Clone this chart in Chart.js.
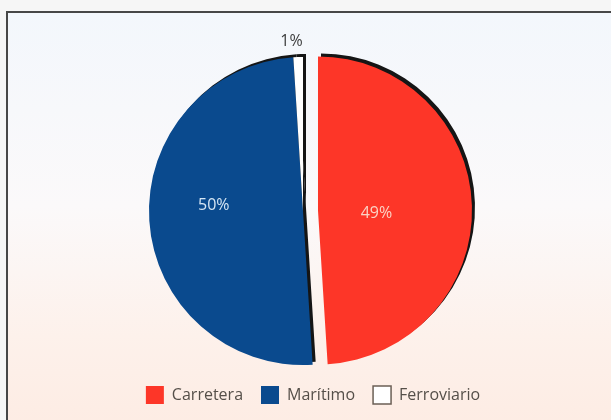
<!DOCTYPE html>
<html>
<head>
<meta charset="utf-8">
<script src="https://cdn.jsdelivr.net/npm/chart.js@4/dist/chart.umd.min.js"></script>
<style>
  html, body { margin: 0; padding: 0; }
  body { width: 611px; height: 420px; background: #f6f6f6; position: relative; overflow: hidden; }
  #frame {
    position: absolute; left: 6px; top: 11px; width: 620px; height: 430px;
    border-top: 2px solid #474747; border-left: 2px solid #474747;
    background: linear-gradient(to bottom, #f3f7fc 0%, #fbf9fa 45%, #fdf1eb 75%, #fdebe2 100%);
  }
  #myChart { position: absolute; left: 0; top: 0; }
</style>
</head>
<body>
<div id="frame"></div>
<canvas id="myChart" width="611" height="420"></canvas>
<script>
// reparto modal
const modos = ['Carretera', 'Marítimo', 'Ferroviario'];
const porcentajes = [49, 50, 1];
const colores = ['#fd3628', '#0a4a8e', '#ffffff'];

// how far each slice is pulled out of the pie, in px
const separacion = [15, 0, 0];

function desplazamiento(arc, i) {
  const mid = (arc.startAngle + arc.endAngle) / 2;
  return { dx: Math.cos(mid) * separacion[i], dy: Math.sin(mid) * separacion[i] };
}

// draws the slices pulled out, with a black shadow up and to the right
const sombra = {
  id: 'sombra',
  beforeDatasetDraw(chart, args) {
    const ctx = chart.ctx;
    ctx.save();
    ctx.shadowColor = '#151515';
    ctx.shadowBlur = 0;
    ctx.shadowOffsetX = 3;
    ctx.shadowOffsetY = -3;
    args.meta.data.forEach((arc, i) => {
      const d = desplazamiento(arc, i);
      ctx.save();
      ctx.translate(d.dx, d.dy);
      arc.draw(ctx);
      ctx.restore();
    });
    ctx.restore();
    return false;
  }
};

// percentage labels: inside for the big slices, outside for the small one
const etiquetas = {
  id: 'etiquetas',
  afterDatasetsDraw(chart) {
    const ctx = chart.ctx;
    const arcs = chart.getDatasetMeta(0).data;
    const radios = [0.38, 0.58, 1.1];
    const giros = [5, 7, 0];
    const tintas = ['#fbd2c4', '#d6e6f4', '#3d3d3d'];
    ctx.save();
    ctx.font = '16px "Open Sans"';
    ctx.textBaseline = 'middle';
    arcs.forEach((arc, i) => {
      const d = desplazamiento(arc, i);
      const mid = (arc.startAngle + arc.endAngle) / 2 + giros[i] * Math.PI / 180;
      const r = arc.outerRadius * radios[i];
      const x = arc.x + d.dx + Math.cos(mid) * r;
      const y = arc.y + d.dy + Math.sin(mid) * r;
      ctx.fillStyle = tintas[i];
      ctx.textAlign = radios[i] > 1 ? 'right' : 'center';
      ctx.fillText(porcentajes[i] + '%', radios[i] > 1 ? x + 5 : x, y);
    });
    ctx.restore();
  }
};

// nudge the legend row a little to the right of the pie axis
const legendaDesplazada = {
  id: 'legendaDesplazada',
  afterLayout(chart) {
    chart.legend.left += 10;
    chart.legend.right += 10;
  }
};

let ctx = document.getElementById('myChart').getContext('2d');
let myChart = new Chart(ctx, {
  type: 'pie',
  data: {
    labels: modos,
    datasets: [{
      data: porcentajes,
      backgroundColor: colores,
      borderWidth: 0,
      radius: 154
    }]
  },
  options: {
    responsive: false,
    animation: false,
    devicePixelRatio: 1,
    layout: { padding: { top: 54, bottom: 6, left: 0, right: 5 } },
    plugins: {
      tooltip: { enabled: false },
      legend: {
        position: 'bottom',
        labels: {
          boxWidth: 18,
          boxHeight: 18,
          padding: 18,
          color: '#554f49',
          font: { family: '"Open Sans"', size: 16 },
          generateLabels(chart) {
            const items = Chart.overrides.pie.plugins.legend.labels.generateLabels(chart);
            items.forEach((it, i) => {
              it.lineWidth = i === 2 ? 1.5 : 0;
              it.strokeStyle = '#6b5f55';
            });
            return items;
          }
        }
      }
    }
  },
  plugins: [sombra, etiquetas, legendaDesplazada]
});
</script>
</body>
</html>
